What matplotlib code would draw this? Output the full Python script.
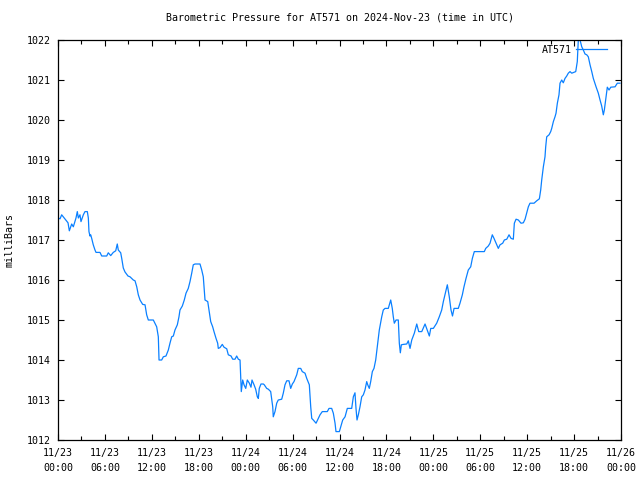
import matplotlib
matplotlib.use("Agg")
import matplotlib.pyplot as plt
import matplotlib.dates as mdates
import numpy as np
import datetime as dt

# hours since 2024-11-23 00:00 UTC
hours = [0.0, 0.26, 0.47, 1.28, 1.45, 1.75, 1.96, 2.30, 2.47, 2.60, 2.81, 2.94, 3.24, 3.45, 3.75,
         3.88, 3.96, 4.09, 4.18, 4.31, 4.51, 4.73, 4.86, 5.37, 5.59, 6.23, 6.43, 6.74, 7.07, 7.38,
         7.58, 7.71, 8.02, 8.15, 8.35, 8.57, 8.95, 9.21, 9.63, 9.85, 10.07, 10.27, 10.49, 10.83,
         11.13, 11.34, 11.55, 12.19, 12.62, 12.83, 12.92, 13.26, 13.47, 13.81, 14.11, 14.32, 14.54,
         14.75, 14.96, 15.26, 15.47, 15.60, 15.90, 16.15, 16.37, 16.66, 16.88, 17.10, 17.30, 17.52,
         18.16, 18.38, 18.58, 18.71, 18.80, 19.15, 19.31, 19.53, 19.78, 19.95, 20.21, 20.42, 20.50,
         20.72, 21.01, 21.23, 21.58, 21.78, 22.13, 22.34, 22.64, 22.85, 23.06, 23.28, 23.37, 23.44,
         23.62, 23.79, 24.01, 24.21, 24.47, 24.68, 24.81, 25.07, 25.28, 25.49, 25.62, 25.74, 25.96,
         26.26, 26.38, 26.69, 26.90, 27.20, 27.46, 27.53, 27.75, 27.97, 28.17, 28.61, 28.81, 29.03,
         29.25, 29.54, 29.76, 29.97, 30.18, 30.53, 30.73, 31.04, 31.24, 31.59, 31.81, 32.14, 32.32,
         32.45, 32.65, 33.00, 33.29, 33.51, 33.80, 34.44, 34.66, 35.00, 35.21, 35.43, 35.55, 35.98,
         36.16, 36.41, 36.71, 37.00, 37.56, 37.77, 37.98, 38.11, 38.24, 38.41, 38.62, 38.84, 39.05,
         39.26, 39.48, 39.61, 39.81, 39.99, 40.20, 40.41, 40.63, 40.76, 40.89, 41.09, 41.40, 41.60,
         41.82, 42.24, 42.55, 42.75, 42.88, 43.01, 43.23, 43.52, 43.65, 43.78, 43.91, 44.16, 44.60,
         44.80, 45.02, 45.24, 45.57, 45.88, 46.13, 46.52, 46.94, 47.28, 47.49, 47.67, 48.00, 48.43,
         48.76, 49.07, 49.28, 49.53, 49.79, 50.04, 50.26, 50.45, 50.65, 51.19, 51.41, 51.71, 51.92,
         52.18, 52.47, 52.78, 52.99, 53.24, 54.52, 54.70, 55.03, 55.25, 55.54, 55.76, 56.02, 56.31,
         56.53, 56.87, 57.08, 57.39, 57.68, 57.94, 58.23, 58.36, 58.58, 58.87, 59.21, 59.51, 59.73,
         59.94, 60.15, 60.36, 60.88, 61.22, 61.56, 61.73, 61.86, 62.07, 62.28, 62.37, 62.50, 62.80,
         63.01, 63.14, 63.35, 63.56, 63.69, 63.86, 64.07, 64.20, 64.42, 64.62, 64.84, 65.06, 65.26,
         65.48, 65.70, 66.21, 66.41, 66.54, 66.76, 66.98, 67.18, 67.40, 67.62, 67.82, 68.04, 68.26,
         68.46, 68.81, 69.10, 69.32, 69.53, 69.74, 69.87, 70.09, 70.25, 70.47, 70.69, 71.24, 71.53,
         71.87]

pressure = [1017.55, 1017.53, 1017.63, 1017.43, 1017.23, 1017.40, 1017.33, 1017.55, 1017.71, 1017.55,
            1017.63, 1017.46, 1017.63, 1017.71, 1017.71, 1017.55, 1017.21, 1017.10, 1017.13, 1017.04,
            1016.88, 1016.75, 1016.69, 1016.69, 1016.60, 1016.60, 1016.68, 1016.61, 1016.69, 1016.73,
            1016.90, 1016.75, 1016.68, 1016.54, 1016.30, 1016.20, 1016.10, 1016.08, 1016.00, 1015.98,
            1015.83, 1015.63, 1015.50, 1015.39, 1015.38, 1015.13, 1015.00, 1015.00, 1014.83, 1014.58,
            1014.00, 1014.00, 1014.08, 1014.10, 1014.25, 1014.42, 1014.58, 1014.60, 1014.75, 1014.88,
            1015.08, 1015.25, 1015.35, 1015.50, 1015.67, 1015.79, 1015.96, 1016.17, 1016.38, 1016.40,
            1016.40, 1016.25, 1016.08, 1015.75, 1015.50, 1015.46, 1015.25, 1014.96, 1014.83, 1014.71,
            1014.54, 1014.42, 1014.29, 1014.31, 1014.39, 1014.32, 1014.28, 1014.13, 1014.10, 1014.02,
            1014.02, 1014.10, 1014.02, 1014.00, 1013.58, 1013.21, 1013.50, 1013.38, 1013.29, 1013.50,
            1013.42, 1013.32, 1013.50, 1013.38, 1013.27, 1013.08, 1013.04, 1013.29, 1013.40, 1013.40,
            1013.38, 1013.29, 1013.27, 1013.21, 1012.83, 1012.58, 1012.71, 1012.92, 1013.00, 1013.02,
            1013.17, 1013.38, 1013.48, 1013.48, 1013.29, 1013.40, 1013.46, 1013.63, 1013.79, 1013.79,
            1013.71, 1013.67, 1013.54, 1013.38, 1012.83, 1012.54, 1012.50, 1012.42, 1012.54, 1012.63,
            1012.71, 1012.71, 1012.79, 1012.79, 1012.67, 1012.42, 1012.21, 1012.21, 1012.33, 1012.50,
            1012.58, 1012.79, 1012.79, 1013.08, 1013.18, 1012.79, 1012.50, 1012.63, 1012.83, 1013.08,
            1013.13, 1013.25, 1013.46, 1013.38, 1013.29, 1013.46, 1013.71, 1013.79, 1014.00, 1014.21,
            1014.42, 1014.75, 1015.08, 1015.25, 1015.29, 1015.29, 1015.50, 1015.29, 1015.08, 1014.92,
            1015.00, 1015.00, 1014.42, 1014.18, 1014.38, 1014.39, 1014.40, 1014.48, 1014.29, 1014.50,
            1014.67, 1014.90, 1014.71, 1014.71, 1014.90, 1014.71, 1014.60, 1014.79, 1014.79, 1014.92,
            1015.08, 1015.25, 1015.46, 1015.67, 1015.88, 1015.58, 1015.25, 1015.10, 1015.29, 1015.29,
            1015.42, 1015.63, 1015.83, 1016.04, 1016.25, 1016.33, 1016.54, 1016.71, 1016.71, 1016.79,
            1016.85, 1016.92, 1017.13, 1017.04, 1016.92, 1016.79, 1016.88, 1016.92, 1017.00, 1017.02,
            1017.13, 1017.04, 1017.02, 1017.42, 1017.52, 1017.50, 1017.42, 1017.43, 1017.52, 1017.67,
            1017.83, 1017.92, 1017.92, 1017.98, 1018.03, 1018.25, 1018.50, 1018.83, 1019.08, 1019.33,
            1019.58, 1019.63, 1019.71, 1019.79, 1019.96, 1020.08, 1020.17, 1020.42, 1020.63, 1020.92,
            1021.00, 1020.93, 1021.04, 1021.10, 1021.17, 1021.21, 1021.17, 1021.21, 1021.46, 1022.00,
            1022.00, 1021.83, 1021.75, 1021.65, 1021.63, 1021.58, 1021.38, 1021.21, 1021.04, 1020.83,
            1020.67, 1020.50, 1020.35, 1020.13, 1020.25, 1020.58, 1020.82, 1020.75, 1020.82, 1020.83,
            1020.92, 1020.92]

station = "AT571"
title = "Barometric Pressure for AT571 on 2024-Nov-23 (time in UTC)"
ylabel = "milliBars"
y_ticks = list(range(1012, 1023))

start = dt.datetime(2024, 11, 23, 0, 0)
end = dt.datetime(2024, 11, 26, 0, 0)
times = [start + dt.timedelta(hours=h) for h in hours]

plt.rcParams['font.family'] = ['DejaVu Sans Mono']
FS = 7.2

fig = plt.figure(figsize=(6.4, 4.8), dpi=100)
ax = fig.add_axes([58/640, 1 - 440/480, (621-58)/640, 400/480])

ax.plot(times, pressure, color='#0a80ff', lw=0.9, label=station)
ax.set_xlim(start, end)
ax.set_ylim(1012, 1022)
ax.set_yticks(y_ticks)
ax.set_yticklabels([str(v) for v in y_ticks], fontsize=FS)

ax.xaxis.set_major_locator(mdates.HourLocator(byhour=[0, 6, 12, 18]))
ax.xaxis.set_minor_locator(mdates.HourLocator(byhour=[3, 9, 15, 21]))
ax.xaxis.set_major_formatter(mdates.DateFormatter('%m/%d\n%H:%M'))
for lbl in ax.get_xticklabels():
    lbl.set_fontsize(FS)

ax.tick_params(axis='both', which='major', direction='in', length=4, width=0.8,
               top=True, right=True, labelsize=FS, pad=5)
ax.tick_params(axis='x', which='minor', direction='in', length=3, width=0.8, top=True)
ax.tick_params(axis='x', which='major', pad=6)
plt.setp(ax.get_xticklabels(), linespacing=1.6)
for s in ax.spines.values():
    s.set_linewidth(0.9)
    s.set_color('black')

ax.set_title(title, fontsize=FS, pad=14)
ax.set_ylabel(ylabel, fontsize=FS, labelpad=9)

leg = ax.legend(loc='upper right', frameon=False, markerfirst=False, fontsize=FS,
                handlelength=3.1, handletextpad=0.4, borderaxespad=0.1,
                bbox_to_anchor=(0.984, 1.0))

fig.savefig("out.png", dpi=100)
